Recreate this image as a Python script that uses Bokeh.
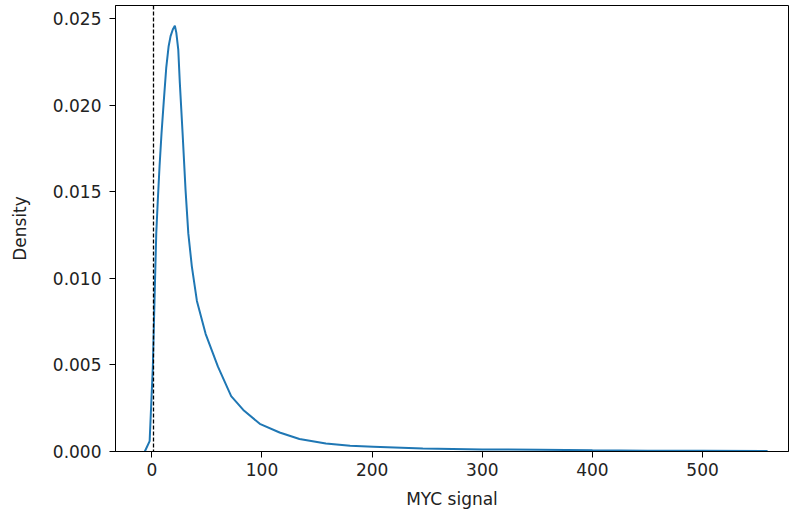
from bokeh.plotting import figure
from bokeh.models import Range1d, Span, FixedTicker, NumeralTickFormatter
from bokeh.embed import file_html
from bokeh.resources import INLINE

# KDE of MYC signal
signal = [-6.4, -2.0, 0.9, 2.4, 4.0, 5.4, 7.0, 8.8, 10.9, 13.1, 15.2, 17.0,
          19.1, 20.9, 22.2, 24.0, 25.4, 27.9, 30.6, 33.1, 36.3, 40.9, 48.8,
          60.0, 72, 83, 98, 116, 134, 158, 180, 201, 246, 300, 352, 400,
          450, 500, 559]
density = [0.0, 0.0006, 0.0049, 0.0087, 0.0126, 0.0145, 0.0165, 0.0184,
           0.0203, 0.0222, 0.0234, 0.0240, 0.0244, 0.0246, 0.0242, 0.0232,
           0.0213, 0.0184, 0.0151, 0.0126, 0.0107, 0.0087, 0.0068, 0.0049,
           0.0032, 0.0024, 0.0016, 0.0011, 0.00072, 0.00046, 0.00033,
           0.00028, 0.00017, 0.00012, 0.00010, 0.00007, 0.00005, 0.00004,
           0.00003]
threshold = 1.5
x_ticks = [0, 100, 200, 300, 400, 500]
y_ticks = [0.0, 0.005, 0.010, 0.015, 0.020, 0.025]

FONT = "DejaVu Sans"
FS = "17px"

p = figure(width=790, height=512, output_backend="svg", toolbar_location=None,
           x_range=Range1d(-33, 578), y_range=Range1d(0, 0.02577),
           min_border_left=115, min_border_right=2, min_border_top=5,
           min_border_bottom=61)

p.line(signal, density, line_color="#1f77b4", line_width=2)

p.add_layout(Span(location=threshold, dimension="height", line_color="black",
                  line_dash="4 2", line_width=1.3))

p.grid.visible = False
p.outline_line_color = "black"
p.outline_line_width = 1
p.outline_line_alpha = 1

for ax in (p.xaxis[0], p.yaxis[0]):
    ax.axis_line_color = "black"
    ax.major_tick_line_color = "black"
    ax.major_tick_out = 6
    ax.major_tick_in = 0
    ax.minor_tick_line_color = None
    ax.major_label_text_font = FONT
    ax.major_label_text_font_size = FS
    ax.major_label_text_color = "#222222"
    ax.axis_label_text_font = FONT
    ax.axis_label_text_font_size = FS
    ax.axis_label_text_font_style = "normal"
    ax.axis_label_text_color = "#222222"

p.xaxis.ticker = FixedTicker(ticks=x_ticks)
p.yaxis.ticker = FixedTicker(ticks=y_ticks)
p.yaxis.formatter = NumeralTickFormatter(format="0.000")
p.xaxis.axis_label = "MYC signal"
p.yaxis.axis_label = "Density"
p.xaxis.major_label_standoff = 5
p.yaxis.major_label_standoff = 8
p.xaxis.axis_label_standoff = 10
p.yaxis.axis_label_standoff = 20

open("out.html", "w").write(file_html(p, INLINE))
